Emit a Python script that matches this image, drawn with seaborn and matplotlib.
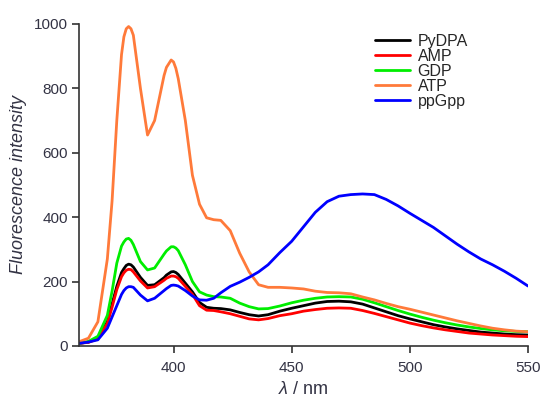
import numpy as np
import pandas as pd
import matplotlib
matplotlib.use("Agg")
import matplotlib.pyplot as plt
import seaborn as sns

wavelength = [360, 364, 368, 372, 374, 376, 378, 379, 380, 381, 382, 383, 386, 389, 392, 396,
              397, 399, 400, 401, 402, 405, 408, 411, 414, 417, 420, 424, 428, 432, 436, 440,
              445, 450, 455, 460, 465, 470, 475, 480, 485, 490, 495, 500, 505, 510, 515, 520,
              525, 530, 535, 540, 545, 550]

pydpa = [8, 12, 25, 75, 130, 185, 228, 240, 250, 254, 252, 245, 213, 188, 190, 212,
         220, 230, 231, 228, 222, 195, 168, 135, 120, 117, 116, 112, 104, 97, 93, 97,
         108, 117, 125, 133, 138, 139, 137, 130, 118, 106, 94, 84, 75, 66, 59, 53,
         48, 43, 40, 37, 35, 34]
amp = [8, 11, 22, 70, 120, 175, 215, 227, 235, 238, 237, 230, 202, 180, 184, 204,
       210, 217, 217, 215, 210, 185, 160, 125, 111, 110, 106, 100, 92, 84, 81, 85,
       94, 100, 108, 113, 117, 118, 117, 110, 101, 91, 81, 71, 63, 56, 50, 45,
       40, 37, 34, 32, 30, 29]
gdp = [8, 14, 30, 95, 170, 257, 310, 323, 332, 334, 328, 315, 262, 236, 242, 285,
       295, 308, 308, 304, 296, 252, 200, 168, 158, 153, 152, 148, 133, 122, 115, 116,
       124, 134, 142, 148, 152, 153, 152, 145, 134, 122, 110, 99, 89, 80, 72, 65,
       59, 54, 50, 47, 45, 44]
atp = [13, 24, 75, 270, 450, 700, 905, 960, 985, 992, 985, 965, 800, 655, 700, 840,
       865, 888, 882, 862, 830, 700, 530, 440, 398, 392, 390, 358, 288, 230, 190, 182,
       182, 180, 177, 170, 166, 165, 162, 152, 143, 132, 122, 114, 105, 96, 87, 78,
       70, 62, 55, 50, 46, 44]
ppgpp = [8, 12, 19, 55, 90, 125, 160, 172, 180, 184, 184, 182, 158, 140, 148, 172,
         178, 188, 189, 188, 186, 172, 155, 143, 142, 148, 165, 185, 198, 213, 230, 252,
         290, 325, 370, 415, 448, 465, 470, 472, 470, 455, 435, 412, 390, 368, 342, 316,
         292, 270, 252, 232, 210, 186]

series_names = ["PyDPA", "AMP", "GDP", "ATP", "ppGpp"]
series_values = [pydpa, amp, gdp, atp, ppgpp]
colors = ["#000000", "#ff0000", "#00ee00", "#ff7a3a", "#0000ff"]

x_ticks = [400, 450, 500, 550]
y_ticks = [0, 200, 400, 600, 800, 1000]

df = pd.DataFrame({
    "wavelength": np.tile(wavelength, len(series_names)),
    "intensity": np.concatenate(series_values),
    "sample": np.repeat(series_names, len(wavelength)),
})

sns.set_theme(style="ticks")
plt.rcParams["font.family"] = ["Liberation Sans", "DejaVu Sans"]
plt.rcParams["mathtext.fontset"] = "custom"
plt.rcParams["mathtext.it"] = "Liberation Sans:italic"
plt.rcParams["mathtext.rm"] = "Liberation Sans"
plt.rcParams["xtick.bottom"] = True
plt.rcParams["ytick.left"] = True
plt.rcParams["xtick.major.size"] = 5
plt.rcParams["ytick.major.size"] = 5
plt.rcParams["xtick.major.width"] = 1.2
plt.rcParams["ytick.major.width"] = 1.2
plt.rcParams["xtick.color"] = "#333333"
plt.rcParams["ytick.color"] = "#333333"

fig = plt.figure(figsize=(5.41, 3.99), dpi=100)
ax = fig.add_axes([0.146, 0.133, 0.830, 0.807])

sns.lineplot(data=df, x="wavelength", y="intensity", hue="sample",
             hue_order=series_names, palette=colors, linewidth=2.0, ax=ax)

ax.set_xlim(360, 550)
ax.set_ylim(0, 1000)
ax.set_xticks(x_ticks)
ax.set_yticks(y_ticks)
ax.tick_params(axis="both", which="major", direction="out", labelsize=11,
               labelcolor="#333344")
ax.tick_params(axis="x", pad=6)
ax.tick_params(axis="y", pad=3)
for s in ["top", "right"]:
    ax.spines[s].set_visible(False)
for s in ["left", "bottom"]:
    ax.spines[s].set_linewidth(1.2)
    ax.spines[s].set_color("#333333")

ax.set_xlabel(r"$\lambda$ / nm", fontsize=13, color="#333344", labelpad=4)
ax.set_ylabel("Fluorescence intensity", fontsize=13, style="italic", color="#333344", labelpad=5)

leg = ax.legend(loc="upper left", bbox_to_anchor=(0.644, 0.99), borderaxespad=0.0,
                frameon=False, fontsize=11.5, handlelength=2.2, handletextpad=0.5,
                labelspacing=0.0)
for line in leg.get_lines():
    line.set_linewidth(2.0)

fig.savefig("out.png", dpi=100)
